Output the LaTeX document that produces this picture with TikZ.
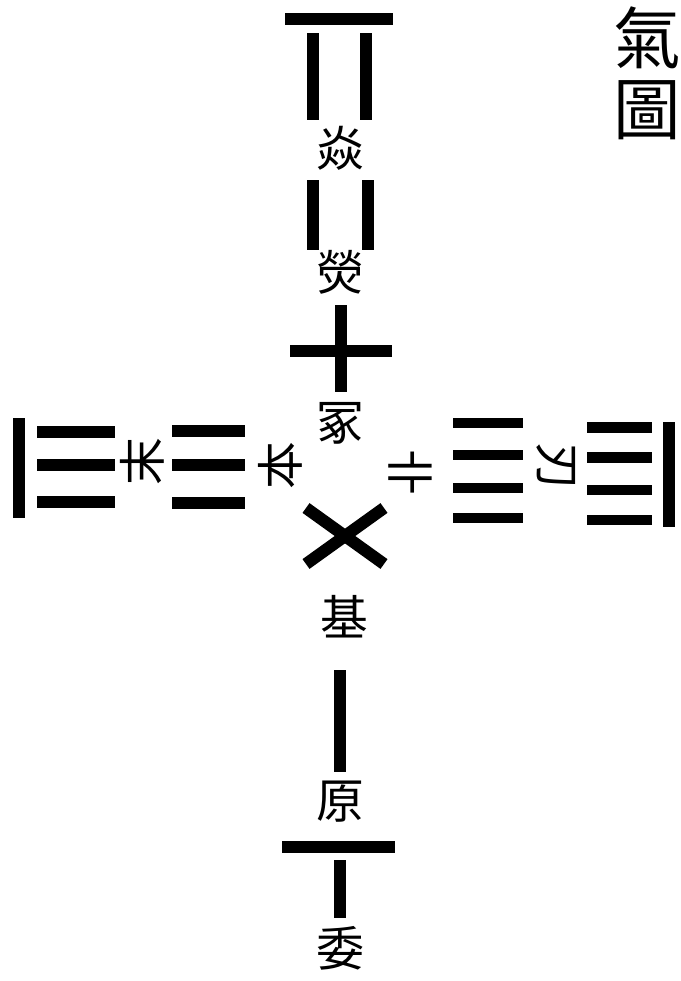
\documentclass[tikz,border=0pt]{standalone}
\usepackage{fontspec}
\newfontfamily\cjk{Noto Sans CJK TC}
\usetikzlibrary{positioning}

\begin{document}
\begin{tikzpicture}[x=0.025cm,y=-0.025cm,
  bar/.style={line width=0.3cm,black},
  thinbar/.style={line width=0.26cm,black},
  lbl/.style={font=\cjk\fontsize{34}{34}\selectfont,inner sep=0pt},
  ttl/.style={font=\cjk\fontsize{48}{48}\selectfont,inner sep=0pt}]
  \useasboundingbox (0,0) rectangle (680,981);
  % top column
  \draw[bar] (285,19)--(393,19);
  \draw[bar] (312.5,33)--(312.5,120); \draw[bar] (366,33)--(366,120);
  \node[lbl](yan) at (340,148) {焱};
  \draw[bar] (313,180)--(313,250); \draw[bar] (367.5,180)--(367.5,250);
  \node[lbl](ying) at (340,272) {熒};
  % cross
  \draw[bar] (341,305)--(341,392);
  \draw[bar] (290,350.5)--(392,350.5);
  \node[lbl](zhong) at (340,423) {冢};
  % left arm
  \draw[bar] (19,418)--(19,518);
  \foreach \y in {431.5,465,501.5} \draw[bar] (37,\y)--(115,\y);
  \node[lbl,rotate=90](mo) at (142,462) {末};
  \foreach \y in {431,465,503} \draw[bar] (172,\y)--(245,\y);
  \node[lbl,rotate=90](ben) at (280,466) {本};
  % right arm
  \node[lbl,rotate=-90](kuang) at (410,472) {卝};
  \foreach \y in {423,455,488,518} \draw[thinbar] (453,\y)--(523,\y);
  \node[lbl,rotate=-90](ren) at (556,466) {刃};
  \foreach \y in {427.5,457.5,490,520} \draw[thinbar] (587,\y)--(652,\y);
  \draw[bar] (669,422)--(669,527);
  % saltire
  \draw[bar] (306,508)--(384,564);
  \draw[bar] (384,508)--(306,564);
  \node[lbl](ji) at (344,617) {基};
  % bottom column
  \draw[bar] (340,670)--(340,772);
  \node[lbl](yuan) at (340,802) {原};
  \draw[bar] (282,846.5)--(395,846.5);
  \draw[bar] (340,860)--(340,918);
  \node[lbl](wei) at (340,948) {委};
  % title
  \node[ttl](qi) at (647,38) {氣};
  \node[ttl](tu) at (647,110) {圖};
\end{tikzpicture}
\end{document}
